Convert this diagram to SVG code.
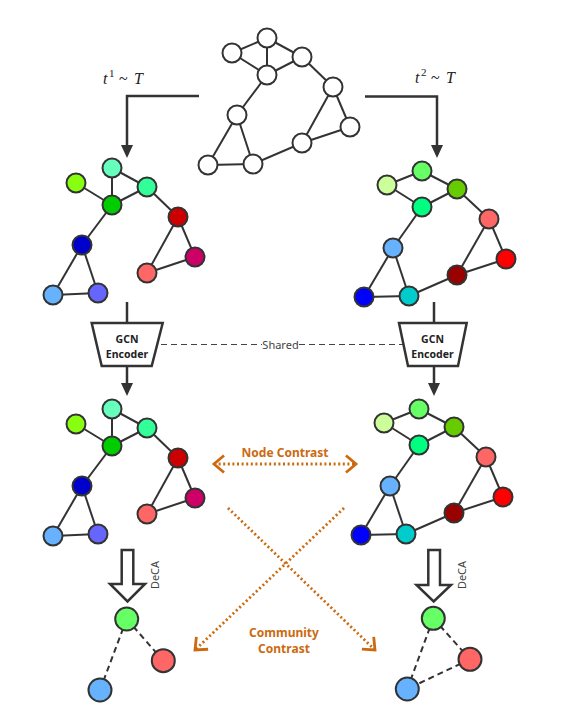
<svg xmlns="http://www.w3.org/2000/svg" width="566" height="725" viewBox="0 0 566 725">
<defs>
<style>
.e{stroke:#333;stroke-width:2;fill:none}
.d{stroke:#333;stroke-width:2;fill:none;stroke-dasharray:6 4}
.n{stroke:#333;stroke-width:2}
.w{fill:#fff}
.ar{stroke:#333;stroke-width:2.5;fill:none}
.blk{stroke:#333;stroke-width:2.5;fill:#fff;stroke-linejoin:miter}
.or{stroke:#CC6A10;stroke-width:2.8;fill:none;stroke-dasharray:2 2.6}
.ot{font-family:"Noto Sans","Open Sans",sans-serif;font-weight:bold;font-size:12px;fill:#CC6A10;text-anchor:middle}
.gt{font-family:"Noto Sans","Open Sans",sans-serif;font-weight:bold;font-size:10.5px;fill:#222;text-anchor:middle}
.st{font-family:"Noto Sans","Open Sans",sans-serif;font-size:11px;fill:#444;text-anchor:middle}
.mi{font-family:"Liberation Serif","DejaVu Serif",serif;font-style:italic;font-size:16px;fill:#222}
.mr{font-family:"Liberation Serif","DejaVu Serif",serif;font-size:16px;fill:#222}
.ms{font-family:"Liberation Serif","DejaVu Serif",serif;font-size:11px;fill:#222}
</style>
<marker id="tri" markerUnits="userSpaceOnUse" markerWidth="14" markerHeight="12" refX="9" refY="6" orient="auto">
<path d="M0,0 L13,6 L0,12 z" fill="#333"/>
</marker>
<marker id="chev" markerUnits="userSpaceOnUse" markerWidth="24" markerHeight="24" refX="13" refY="12" orient="auto-start-reverse">
<path d="M3,3.5 L13,12 L3,20.5" fill="none" stroke="#CC6A10" stroke-width="2.8"/>
</marker>
</defs>
<rect width="566" height="725" fill="#fff"/>

<g id="connectors">
  <g id="top-edges">
    <line class="e" x1="267" y1="38" x2="232" y2="53"/>
    <line class="e" x1="267" y1="38" x2="267" y2="75"/>
    <line class="e" x1="267" y1="38" x2="302" y2="57"/>
    <line class="e" x1="232" y1="53" x2="267" y2="75"/>
    <line class="e" x1="267" y1="75" x2="302" y2="57"/>
    <line class="e" x1="302" y1="57" x2="333" y2="87"/>
    <line class="e" x1="267" y1="75" x2="237" y2="115"/>
    <line class="e" x1="333" y1="87" x2="350" y2="127"/>
    <line class="e" x1="333" y1="87" x2="302" y2="143"/>
    <line class="e" x1="350" y1="127" x2="302" y2="143"/>
    <line class="e" x1="302" y1="143" x2="253" y2="164"/>
    <line class="e" x1="237" y1="115" x2="208" y2="165"/>
    <line class="e" x1="237" y1="115" x2="253" y2="164"/>
    <line class="e" x1="208" y1="165" x2="253" y2="164"/>
  </g>
  <g id="left-edges">
    <line class="e" x1="76" y1="183" x2="112" y2="205"/>
    <line class="e" x1="112" y1="168" x2="112" y2="205"/>
    <line class="e" x1="112" y1="168" x2="147" y2="187"/>
    <line class="e" x1="112" y1="205" x2="147" y2="187"/>
    <line class="e" x1="147" y1="187" x2="178" y2="217"/>
    <line class="e" x1="112" y1="205" x2="82" y2="245"/>
    <line class="e" x1="178" y1="217" x2="195" y2="257"/>
    <line class="e" x1="178" y1="217" x2="147" y2="273"/>
    <line class="e" x1="195" y1="257" x2="147" y2="273"/>
    <line class="e" x1="82" y1="245" x2="53" y2="295"/>
    <line class="e" x1="82" y1="245" x2="98" y2="293"/>
    <line class="e" x1="53" y1="295" x2="98" y2="293"/>
  </g>
  <g id="right-edges">
    <line class="e" x1="422" y1="171" x2="387" y2="185"/>
    <line class="e" x1="422" y1="171" x2="457" y2="189"/>
    <line class="e" x1="387" y1="185" x2="422" y2="207"/>
    <line class="e" x1="422" y1="207" x2="457" y2="189"/>
    <line class="e" x1="457" y1="189" x2="489" y2="219"/>
    <line class="e" x1="422" y1="207" x2="393" y2="248"/>
    <line class="e" x1="489" y1="219" x2="506" y2="259"/>
    <line class="e" x1="489" y1="219" x2="457" y2="275"/>
    <line class="e" x1="506" y1="259" x2="457" y2="275"/>
    <line class="e" x1="457" y1="275" x2="409" y2="296"/>
    <line class="e" x1="393" y1="248" x2="364" y2="297"/>
    <line class="e" x1="393" y1="248" x2="409" y2="296"/>
    <line class="e" x1="364" y1="297" x2="409" y2="296"/>
  </g>
  <g id="left-emb-edges" transform="translate(0,241)">
    <line class="e" x1="76" y1="183" x2="112" y2="205"/>
    <line class="e" x1="112" y1="168" x2="112" y2="205"/>
    <line class="e" x1="112" y1="168" x2="147" y2="187"/>
    <line class="e" x1="112" y1="205" x2="147" y2="187"/>
    <line class="e" x1="147" y1="187" x2="178" y2="217"/>
    <line class="e" x1="112" y1="205" x2="82" y2="245"/>
    <line class="e" x1="178" y1="217" x2="195" y2="257"/>
    <line class="e" x1="178" y1="217" x2="147" y2="273"/>
    <line class="e" x1="195" y1="257" x2="147" y2="273"/>
    <line class="e" x1="82" y1="245" x2="53" y2="295"/>
    <line class="e" x1="82" y1="245" x2="98" y2="293"/>
    <line class="e" x1="53" y1="295" x2="98" y2="293"/>
  </g>
  <g id="right-emb-edges" transform="translate(-3,238)">
    <line class="e" x1="422" y1="171" x2="387" y2="185"/>
    <line class="e" x1="422" y1="171" x2="457" y2="189"/>
    <line class="e" x1="387" y1="185" x2="422" y2="207"/>
    <line class="e" x1="422" y1="207" x2="457" y2="189"/>
    <line class="e" x1="457" y1="189" x2="489" y2="219"/>
    <line class="e" x1="422" y1="207" x2="393" y2="248"/>
    <line class="e" x1="489" y1="219" x2="506" y2="259"/>
    <line class="e" x1="489" y1="219" x2="457" y2="275"/>
    <line class="e" x1="506" y1="259" x2="457" y2="275"/>
    <line class="e" x1="457" y1="275" x2="409" y2="296"/>
    <line class="e" x1="393" y1="248" x2="364" y2="297"/>
    <line class="e" x1="393" y1="248" x2="409" y2="296"/>
    <line class="e" x1="364" y1="297" x2="409" y2="296"/>
  </g>
  <line class="d" x1="126.7" y1="619" x2="163.3" y2="660.7"/>
  <line class="d" x1="126.7" y1="619" x2="100" y2="690"/>
  <line class="d" x1="433.3" y1="618.3" x2="470" y2="659.3"/>
  <line class="d" x1="433.3" y1="618.3" x2="407.3" y2="689"/>
  <line class="d" x1="470" y1="659.3" x2="407.3" y2="689"/>

  <path class="ar" d="M199,96 H127 V154" marker-end="url(#tri)"/>
  <path class="ar" d="M365,96.5 H437 V154" marker-end="url(#tri)"/>
  <line class="ar" x1="127" y1="302" x2="127" y2="323"/>
  <line class="ar" x1="434" y1="302" x2="434" y2="323"/>
  <line class="ar" x1="127" y1="366" x2="127" y2="392" marker-end="url(#tri)"/>
  <line class="ar" x1="434" y1="366" x2="434" y2="392" marker-end="url(#tri)"/>

  <line x1="161" y1="344.5" x2="262" y2="344.5" stroke="#444" stroke-width="1" stroke-dasharray="6 4"/>
  <line x1="299" y1="344.5" x2="405" y2="344.5" stroke="#444" stroke-width="1" stroke-dasharray="6 4"/>

  <line class="or" x1="214" y1="464" x2="356" y2="464" marker-start="url(#chev)" marker-end="url(#chev)"/>
  <line class="or" x1="228" y1="508" x2="375" y2="650" marker-end="url(#chev)"/>
  <line class="or" x1="344" y1="508" x2="195" y2="650" marker-end="url(#chev)"/>
</g>

<g id="top-graph">
  <g id="t-a"><circle class="n w" cx="267" cy="38" r="9.5"/></g>
  <g id="t-b"><circle class="n w" cx="232" cy="53" r="9.5"/></g>
  <g id="t-c"><circle class="n w" cx="302" cy="57" r="9.5"/></g>
  <g id="t-d"><circle class="n w" cx="267" cy="75" r="9.5"/></g>
  <g id="t-e"><circle class="n w" cx="333" cy="87" r="9.5"/></g>
  <g id="t-f"><circle class="n w" cx="237" cy="115" r="9.5"/></g>
  <g id="t-g"><circle class="n w" cx="350" cy="127" r="9.5"/></g>
  <g id="t-h"><circle class="n w" cx="302" cy="143" r="9.5"/></g>
  <g id="t-i"><circle class="n w" cx="208" cy="165" r="9.5"/></g>
  <g id="t-j"><circle class="n w" cx="253" cy="164" r="9.5"/></g>
</g>

<g id="left-graph">
  <g id="l-a"><circle class="n" cx="112" cy="168" r="9.5" fill="#66FFBB"/></g>
  <g id="l-b"><circle class="n" cx="76" cy="183" r="9.5" fill="#88FF11"/></g>
  <g id="l-c"><circle class="n" cx="147" cy="187" r="9.5" fill="#33FF99"/></g>
  <g id="l-d"><circle class="n" cx="112" cy="205" r="9.5" fill="#00CC00"/></g>
  <g id="l-e"><circle class="n" cx="178" cy="217" r="9.5" fill="#CC0000"/></g>
  <g id="l-f"><circle class="n" cx="82" cy="245" r="9.5" fill="#0000CC"/></g>
  <g id="l-g"><circle class="n" cx="195" cy="257" r="9.5" fill="#CC0066"/></g>
  <g id="l-h"><circle class="n" cx="147" cy="273" r="9.5" fill="#FF6666"/></g>
  <g id="l-i"><circle class="n" cx="53" cy="295" r="9.5" fill="#66B2FF"/></g>
  <g id="l-j"><circle class="n" cx="98" cy="293" r="9.5" fill="#6666FF"/></g>
</g>

<g id="right-graph">
  <g id="r-a"><circle class="n" cx="422" cy="171" r="9.5" fill="#66FF66"/></g>
  <g id="r-b"><circle class="n" cx="387" cy="185" r="9.5" fill="#CCFF99"/></g>
  <g id="r-c"><circle class="n" cx="457" cy="189" r="9.5" fill="#66CC00"/></g>
  <g id="r-d"><circle class="n" cx="422" cy="207" r="9.5" fill="#00FF80"/></g>
  <g id="r-e"><circle class="n" cx="489" cy="219" r="9.5" fill="#FF6666"/></g>
  <g id="r-f"><circle class="n" cx="393" cy="248" r="9.5" fill="#66B2FF"/></g>
  <g id="r-g"><circle class="n" cx="506" cy="259" r="9.5" fill="#FF0000"/></g>
  <g id="r-h"><circle class="n" cx="457" cy="275" r="9.5" fill="#990000"/></g>
  <g id="r-i"><circle class="n" cx="364" cy="297" r="9.5" fill="#0000FF"/></g>
  <g id="r-j"><circle class="n" cx="409" cy="296" r="9.5" fill="#00CCCC"/></g>
</g>

<g id="left-emb-graph" transform="translate(0,241)">
  <g id="le-a"><circle class="n" cx="112" cy="168" r="9.5" fill="#66FFBB"/></g>
  <g id="le-b"><circle class="n" cx="76" cy="183" r="9.5" fill="#88FF11"/></g>
  <g id="le-c"><circle class="n" cx="147" cy="187" r="9.5" fill="#33FF99"/></g>
  <g id="le-d"><circle class="n" cx="112" cy="205" r="9.5" fill="#00CC00"/></g>
  <g id="le-e"><circle class="n" cx="178" cy="217" r="9.5" fill="#CC0000"/></g>
  <g id="le-f"><circle class="n" cx="82" cy="245" r="9.5" fill="#0000CC"/></g>
  <g id="le-g"><circle class="n" cx="195" cy="257" r="9.5" fill="#CC0066"/></g>
  <g id="le-h"><circle class="n" cx="147" cy="273" r="9.5" fill="#FF6666"/></g>
  <g id="le-i"><circle class="n" cx="53" cy="295" r="9.5" fill="#66B2FF"/></g>
  <g id="le-j"><circle class="n" cx="98" cy="293" r="9.5" fill="#6666FF"/></g>
</g>

<g id="right-emb-graph" transform="translate(-3,238)">
  <g id="re-a"><circle class="n" cx="422" cy="171" r="9.5" fill="#66FF66"/></g>
  <g id="re-b"><circle class="n" cx="387" cy="185" r="9.5" fill="#CCFF99"/></g>
  <g id="re-c"><circle class="n" cx="457" cy="189" r="9.5" fill="#66CC00"/></g>
  <g id="re-d"><circle class="n" cx="422" cy="207" r="9.5" fill="#00FF80"/></g>
  <g id="re-e"><circle class="n" cx="489" cy="219" r="9.5" fill="#FF6666"/></g>
  <g id="re-f"><circle class="n" cx="393" cy="248" r="9.5" fill="#66B2FF"/></g>
  <g id="re-g"><circle class="n" cx="506" cy="259" r="9.5" fill="#FF0000"/></g>
  <g id="re-h"><circle class="n" cx="457" cy="275" r="9.5" fill="#990000"/></g>
  <g id="re-i"><circle class="n" cx="364" cy="297" r="9.5" fill="#0000FF"/></g>
  <g id="re-j"><circle class="n" cx="409" cy="296" r="9.5" fill="#00CCCC"/></g>
</g>

<g id="community-left">
  <circle class="n" cx="126.7" cy="619" r="11.5" fill="#66FF66"/>
  <circle class="n" cx="163.3" cy="660.7" r="11.5" fill="#FF6666"/>
  <circle class="n" cx="100" cy="690" r="11.5" fill="#66B2FF"/>
</g>
<g id="community-right">
  <circle class="n" cx="433.3" cy="618.3" r="11.5" fill="#66FF66"/>
  <circle class="n" cx="470" cy="659.3" r="11.5" fill="#FF6666"/>
  <circle class="n" cx="407.3" cy="689" r="11.5" fill="#66B2FF"/>
</g>

<g id="encoder-left">
  <polygon class="blk" points="91.7,323 162.7,323 151.7,366 101.7,366"/>
  <text class="gt" x="127" y="343">GCN</text>
  <text class="gt" x="127" y="357.5">Encoder</text>
</g>
<g id="encoder-right">
  <polygon class="blk" points="399,323 466.7,323 458,366 408,366"/>
  <text class="gt" x="432.5" y="343">GCN</text>
  <text class="gt" x="432.5" y="357.5">Encoder</text>
</g>
<text id="shared-label" class="st" x="280.5" y="348.5">Shared</text>

<g id="deca-left">
  <polygon class="blk" points="121.7,550 133.3,550 133.3,584 145,584 127.5,601.5 110,584 121.7,584"/>
  <text class="st" fill="#222" transform="rotate(-90 158.5 575)" x="158.5" y="575">DeCA</text>
</g>
<g id="deca-right">
  <polygon class="blk" points="428.3,550 440,550 440,585 451,585 433.7,601.5 416.5,585 428.3,585"/>
  <text class="st" fill="#222" transform="rotate(-90 465.5 575)" x="465.5" y="575">DeCA</text>
</g>

<g id="labels">
  <text x="103" y="84"><tspan class="mi">t</tspan><tspan class="ms" x="109" y="77">1</tspan><tspan class="mr" x="119" y="84">~</tspan><tspan class="mi" x="134" y="84">T</tspan></text>
  <text x="415" y="83"><tspan class="mi">t</tspan><tspan class="ms" x="421" y="76">2</tspan><tspan class="mr" x="431" y="83">~</tspan><tspan class="mi" x="446" y="83">T</tspan></text>
  <text class="ot" x="285" y="457">Node Contrast</text>
  <text class="ot" x="284" y="636.5">Community</text>
  <text class="ot" x="284" y="653">Contrast</text>
</g>
</svg>
